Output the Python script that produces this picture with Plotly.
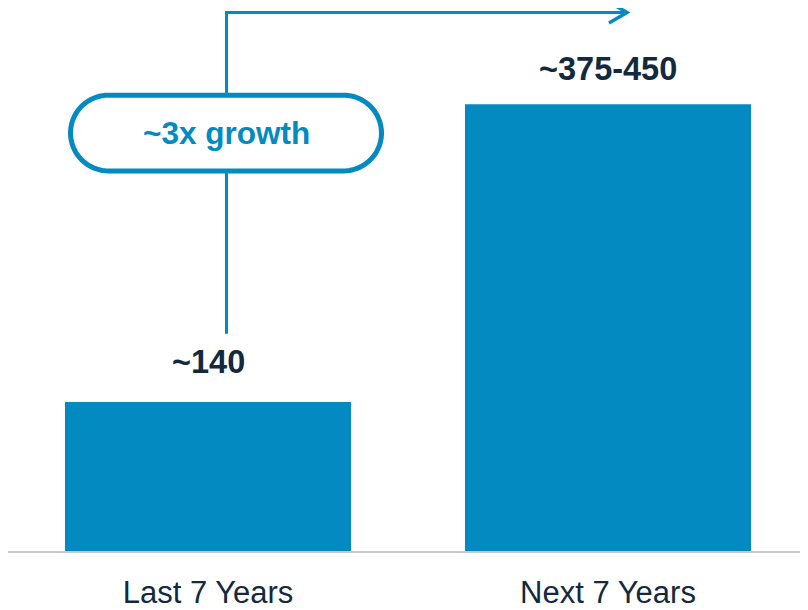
import plotly.graph_objects as go
import numpy as np

categories = ["Last 7 Years", "Next 7 Years"]
values = [140, 420]
value_labels = ["~140", "~375-450"]
label_shift = [40, 35]
callout_text = "~3x growth"

BLUE = "#038BC1"
DARK = "#13293D"

OFF = 8  # page body margin
W, H = 800, 602
ML, MR, MT, MB = 0, 0, 0, 57
PW, PH = W - ML - MR, H - MT - MB

def px_x(px):
    return (px - OFF - ML) / PW

def px_y(py):
    return (H - MB - (py - OFF)) / PH

fig = go.Figure()
fig.add_trace(go.Bar(
    x=categories, y=values,
    marker=dict(color=BLUE, line=dict(width=0)),
    width=0.715, hoverinfo="skip",
))

for c, v, t, s in zip(categories, values, value_labels, label_shift):
    fig.add_annotation(x=c, y=v, text=f"<b>{t}</b>", showarrow=False,
                       yanchor="middle", yshift=s,
                       font=dict(family="Liberation Sans, Arial", size=32.5, color=DARK))

# connector arrow
path = (f"M {px_x(226.5)},{px_y(335)} L {px_x(226.5)},{px_y(12.5)} "
        f"L {px_x(627)},{px_y(12.5)}")
fig.add_shape(type="path", xref="paper", yref="paper", path=path,
              line=dict(color=BLUE, width=3))
head = (f"M {px_x(609)},{px_y(2)} L {px_x(627)},{px_y(12.5)} L {px_x(609)},{px_y(23)}")
fig.add_shape(type="path", xref="paper", yref="paper", path=head,
              line=dict(color=BLUE, width=3.5))

# pill
x0, x1, y0, y1 = 70.5, 381.5, 95.5, 171.5
r = (y1 - y0) / 2
pts = []
cxr, cxl, cy = x1 - r, x0 + r, (y0 + y1) / 2
for a in np.linspace(-np.pi / 2, np.pi / 2, 40):
    pts.append((cxr + r * np.cos(a), cy + r * np.sin(a)))
for a in np.linspace(np.pi / 2, 3 * np.pi / 2, 40):
    pts.append((cxl + r * np.cos(a), cy + r * np.sin(a)))
pill = "M " + " L ".join(f"{px_x(a)},{px_y(b)}" for a, b in pts) + " Z"
fig.add_shape(type="path", xref="paper", yref="paper", path=pill,
              line=dict(color=BLUE, width=5), fillcolor="white")
fig.add_annotation(xref="paper", yref="paper", x=px_x(226), y=px_y(133),
                   text=f"<b>{callout_text}</b>", showarrow=False,
                   xanchor="center", yanchor="middle",
                   font=dict(family="Liberation Sans, Arial", size=31.5, color=BLUE))

fig.update_layout(
    width=W, height=H,
    margin=dict(l=ML, r=MR, t=MT, b=MB),
    paper_bgcolor="white", plot_bgcolor="white",
    showlegend=False,
    xaxis=dict(range=[-0.5, 1.5], showline=True, linecolor="#C8C8C8", linewidth=2,
               showgrid=False, zeroline=False, ticks="", ticklabelstandoff=13,
               tickfont=dict(family="Liberation Sans, Arial", size=31, color=DARK)),
    yaxis=dict(range=[0, 545 * 140 / 149.5], visible=False, showgrid=False, zeroline=False),
)

fig.write_html("out.html")
